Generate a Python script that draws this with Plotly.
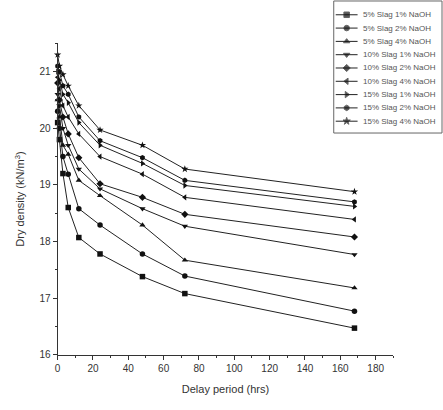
import plotly.graph_objects as go

# Delay period (hrs)
delay_hrs = [0, 1, 3, 6, 12, 24, 48, 72, 168]

series_names = [
    "5% Slag 1% NaOH",
    "5% Slag 2% NaOH",
    "5% Slag 4% NaOH",
    "10% Slag 1% NaOH",
    "10% Slag 2% NaOH",
    "10% Slag 4% NaOH",
    "15% Slag 1% NaOH",
    "15% Slag 2% NaOH",
    "15% Slag 4% NaOH",
]

# Dry density (kN/m3) for each mix
slag5_naoh1 = [20.10, 19.80, 19.20, 18.60, 18.07, 17.78, 17.38, 17.08, 16.47]
slag5_naoh2 = [20.30, 20.00, 19.50, 19.19, 18.58, 18.29, 17.78, 17.39, 16.77]
slag5_naoh4 = [20.50, 20.20, 19.70, 19.54, 19.08, 18.81, 18.29, 17.67, 17.18]
slag10_naoh1 = [20.60, 20.40, 20.00, 19.70, 19.28, 18.93, 18.58, 18.27, 17.77]
slag10_naoh2 = [20.80, 20.50, 20.20, 19.90, 19.48, 19.02, 18.78, 18.48, 18.08]
slag10_naoh4 = [20.90, 20.70, 20.40, 20.20, 19.90, 19.50, 19.19, 18.78, 18.39]
slag15_naoh1 = [21.00, 20.85, 20.60, 20.45, 20.10, 19.70, 19.38, 18.99, 18.62]
slag15_naoh2 = [21.10, 21.00, 20.75, 20.60, 20.20, 19.78, 19.48, 19.08, 18.70]
slag15_naoh4 = [21.30, 21.10, 20.95, 20.75, 20.40, 19.97, 19.70, 19.28, 18.88]

all_series = [slag5_naoh1, slag5_naoh2, slag5_naoh4,
              slag10_naoh1, slag10_naoh2, slag10_naoh4,
              slag15_naoh1, slag15_naoh2, slag15_naoh4]

symbols = ["square", "circle", "triangle-up", "triangle-down", "diamond",
           "triangle-left", "triangle-right", "hexagon", "star"]

W, H = 443, 410
# plot area in pixels (left, right, top, bottom)
PL, PR, PT, PB = 55, 393, 44, 360

# legend box layout in pixels (drawn on a full-page helper axis)
LEG_X0, LEG_X1, LEG_Y0, LEG_Y1 = 333, 442, 1, 135
LEG_ROW0, LEG_ROW_STEP = 15, 13.5
KEY_X = [335, 346, 357]
TEXT_X = 360

fig = go.Figure()
for name, vals, sym in zip(series_names, all_series, symbols):
    fig.add_trace(go.Scatter(
        x=delay_hrs, y=vals, name=name, mode="lines+markers",
        line=dict(color="#222222", width=1),
        marker=dict(symbol=sym, size=5.5, color="#111111"),
        cliponaxis=False, showlegend=False,
    ))

# legend keys
for i, (name, sym) in enumerate(zip(series_names, symbols)):
    row_y = LEG_ROW0 + i * LEG_ROW_STEP
    fig.add_trace(go.Scatter(
        x=KEY_X, y=[row_y] * 3, mode="lines+markers",
        line=dict(color="#222222", width=1),
        marker=dict(symbol=sym, size=[0, 5.5, 0], color="#111111"),
        xaxis="x2", yaxis="y2", showlegend=False, hoverinfo="skip",
        cliponaxis=False,
    ))
    fig.add_annotation(
        x=TEXT_X, y=row_y, xref="x2", yref="y2", text=name,
        showarrow=False, xanchor="left", yanchor="middle",
        font=dict(size=8, color="#555555"),
    )

fig.add_shape(type="rect", xref="x2", yref="y2",
              x0=LEG_X0, x1=LEG_X1, y0=LEG_Y0, y1=LEG_Y1,
              line=dict(color="#666666", width=1))

fig.update_layout(
    width=W, height=H,
    margin=dict(l=0, r=0, t=0, b=0),
    paper_bgcolor="white", plot_bgcolor="rgba(0,0,0,0)",
    font=dict(family="Liberation Sans, Arial, sans-serif", color="#333333"),
    showlegend=False,
    xaxis=dict(
        domain=[PL / W, PR / W], anchor="y",
        range=[0, 190], tick0=0, dtick=20,
        showline=True, linecolor="#333333", linewidth=1,
        ticks="outside", ticklen=4, tickcolor="#333333",
        minor=dict(dtick=10, ticks="outside", ticklen=2, tickcolor="#333333"),
        showgrid=False, zeroline=False,
        tickfont=dict(size=10),
        title=dict(text="Delay period (hrs)", font=dict(size=11), standoff=12),
    ),
    yaxis=dict(
        domain=[(H - PB) / H, (H - PT) / H], anchor="x",
        range=[16, 21.5], tick0=16, dtick=1,
        showline=True, linecolor="#333333", linewidth=1,
        ticks="outside", ticklen=4, tickcolor="#333333",
        minor=dict(dtick=0.5, ticks="outside", ticklen=2, tickcolor="#333333"),
        showgrid=False, zeroline=False,
        tickfont=dict(size=10),
        title=dict(text="Dry density (kN/m<sup>3</sup>)", font=dict(size=11), standoff=12),
    ),
    xaxis2=dict(domain=[0, 1], anchor="y2", range=[0, W], visible=False,
                fixedrange=True),
    yaxis2=dict(domain=[0, 1], anchor="x2", range=[H, 0], visible=False,
                fixedrange=True),
)

fig.write_html("out.html")
